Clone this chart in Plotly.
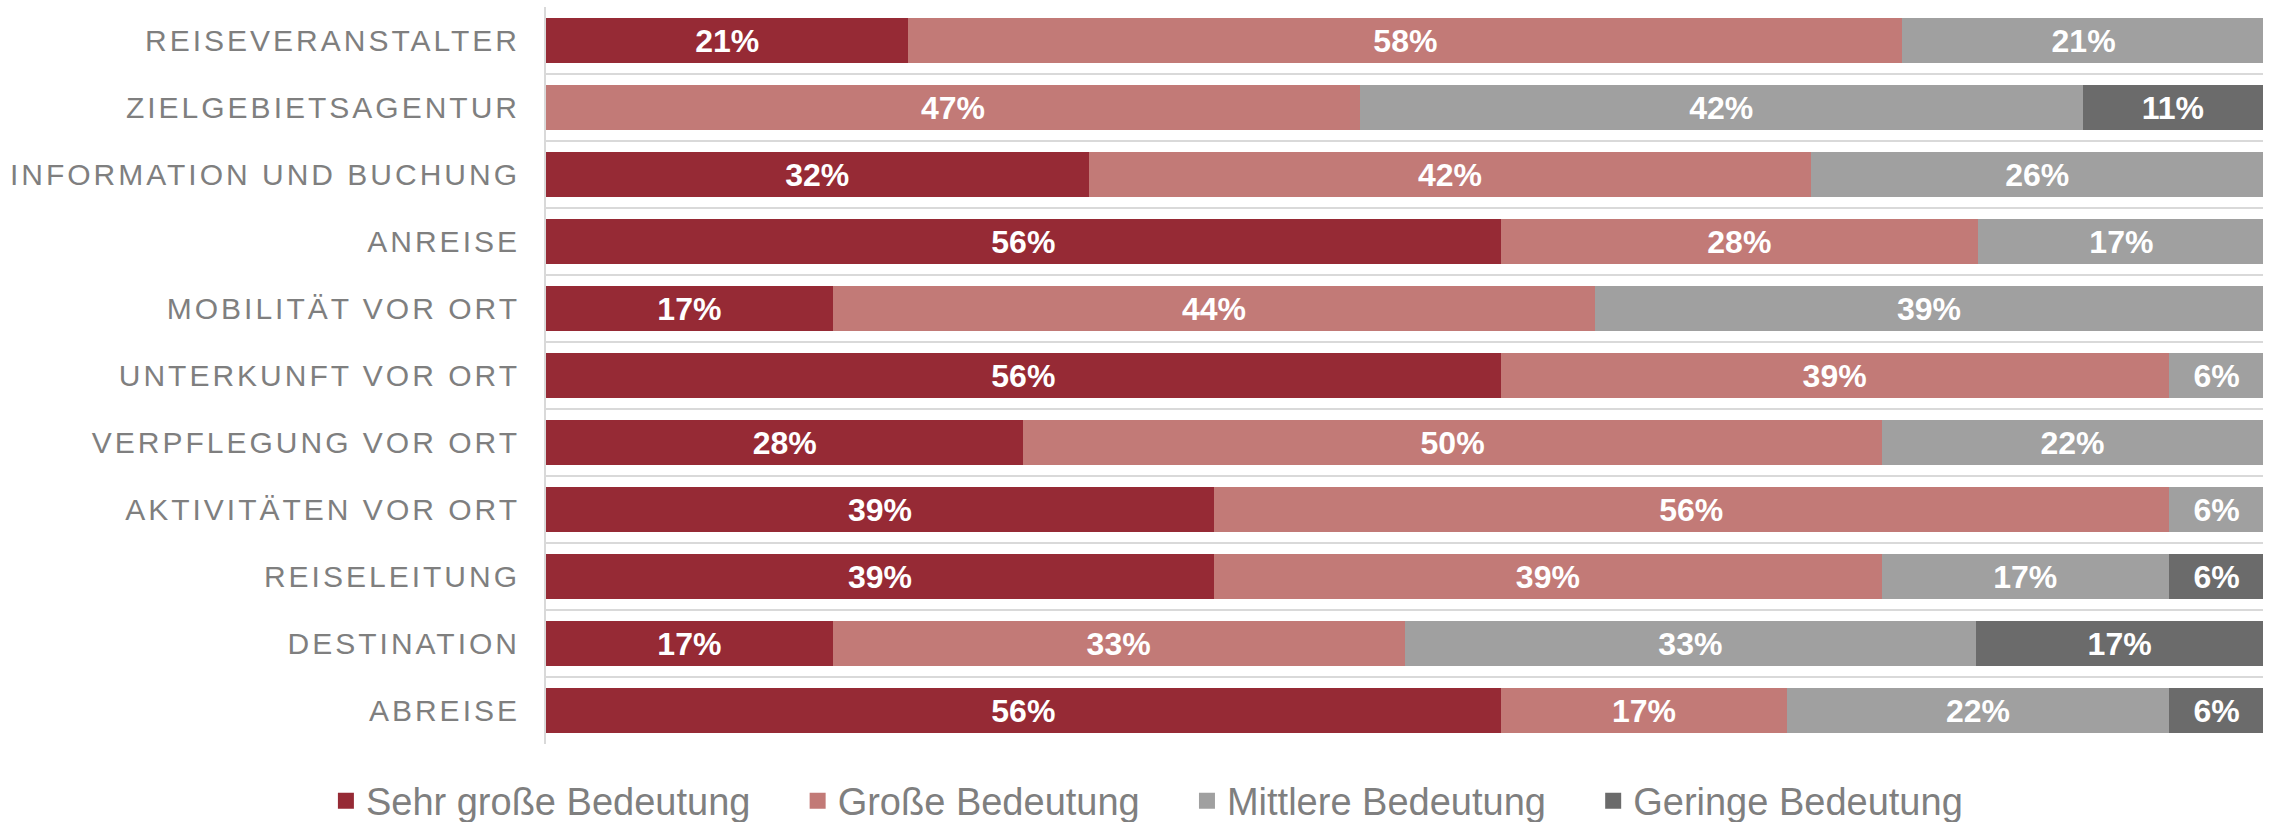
import plotly.graph_objects as go

categories = [
    "REISEVERANSTALTER", "ZIELGEBIETSAGENTUR", "INFORMATION UND BUCHUNG", "ANREISE",
    "MOBILITÄT VOR ORT", "UNTERKUNFT VOR ORT", "VERPFLEGUNG VOR ORT", "AKTIVITÄTEN VOR ORT",
    "REISELEITUNG", "DESTINATION", "ABREISE",
]
sehr_gross = [21.1, None, 31.6, 55.6, 16.7, 55.6, 27.8, 38.9, 38.9, 16.7, 55.6]
gross = [57.9, 47.4, 42.1, 27.8, 44.4, 38.9, 50.0, 55.6, 38.9, 33.3, 16.7]
mittlere = [21.1, 42.1, 26.3, 16.7, 38.9, 5.6, 22.2, 5.6, 16.7, 33.3, 22.2]
geringe = [None, 10.5, None, None, None, None, None, None, 5.6, 16.7, 5.6]

series_names = ["Sehr große Bedeutung", "Große Bedeutung", "Mittlere Bedeutung", "Geringe Bedeutung"]
series_values = [sehr_gross, gross, mittlere, geringe]
series_colors = ["#962A35", "#C27A77", "#A0A0A0", "#6B6B6B"]

PAD = "\u00a0" * 4  # spacing after each legend entry

fig = go.Figure()
for i, (name, vals, col) in enumerate(zip(series_names, series_values, series_colors)):
    fig.add_trace(go.Bar(
        y=categories, x=vals, name=name, orientation="h", showlegend=False,
        legendgroup=name,
        marker=dict(color=col, line=dict(width=0)),
        texttemplate="%{x:.0f}%", textposition="inside", insidetextanchor="middle",
        textfont=dict(family="Liberation Sans", size=32, color="white", weight="bold"),
        constraintext="none", hoverinfo="skip",
    ))
# legend entries (square swatches)
for i, (name, col) in enumerate(zip(series_names, series_colors)):
    fig.add_trace(go.Scatter(
        x=[None], y=[None], mode="markers", legendgroup=name,
        name=name + (PAD if i < len(series_names) - 1 else ""),
        marker=dict(symbol="square", size=16, color=col, line=dict(width=0)),
        hoverinfo="skip",
    ))

fig.update_layout(
    width=2272, height=822,
    barmode="stack", bargap=0.33,
    margin=dict(l=546, r=9, t=7, b=78, autoexpand=False),
    paper_bgcolor="white", plot_bgcolor="white",
    font=dict(family="Liberation Sans", color="#7F7F7F"),
    showlegend=True,
    legend=dict(
        orientation="h", xref="container", yref="paper",
        x=0.5048, xanchor="center", y=-0.0773, yanchor="middle",
        font=dict(size=38, color="#7F7F7F"), traceorder="normal",
        itemclick=False, itemdoubleclick=False, itemsizing="trace",
    ),
    xaxis=dict(range=[0, 100], showticklabels=False, showgrid=False, zeroline=False,
               showline=False, fixedrange=True, automargin=False),
    yaxis=dict(autorange="reversed", tickson="boundaries", showgrid=True,
               gridcolor="#D9D9D9", gridwidth=2, showline=True, linecolor="#D9D9D9",
               linewidth=2, ticks="", ticklabelstandoff=18, automargin=False,
               tickfont=dict(size=30, color="#7F7F7F"), fixedrange=True),
)

post = """
function ls(){
  document.body.style.margin='0';
  document.querySelectorAll('.ytick text').forEach(function(t){t.style.letterSpacing='3px';});
}
ls();
var gd=document.getElementById('{plot_id}');
if(gd&&gd.on){gd.on('plotly_afterplot', ls);}
setTimeout(ls,50);
"""

fig.write_html("out.html", post_script=post, config={"displayModeBar": False})
